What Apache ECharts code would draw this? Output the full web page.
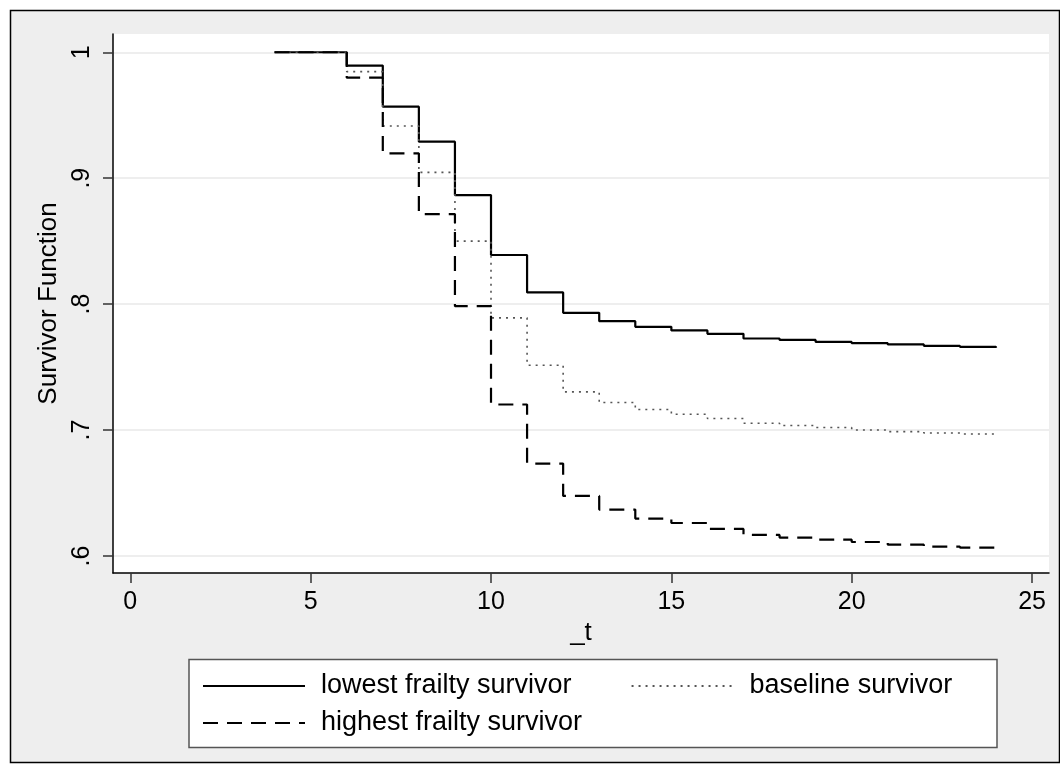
<!DOCTYPE html>
<html>
<head>
<meta charset="utf-8">
<script src="https://cdn.jsdelivr.net/npm/echarts@6/dist/echarts.min.js"></script>
<style>
html,body{margin:0;padding:0;background:#fff;}
#chart{width:1060px;height:774px;}
</style>
</head>
<body>
<div id="chart"></div>
<script>
// ---- data ----
const times = [4, 6, 7, 8, 9, 10, 11, 12, 13, 14, 15, 16, 17, 18, 19, 20, 21, 22, 23, 24];
const lowestFrailty = [1, 0.9894, 0.9568, 0.929, 0.8866, 0.839, 0.8093, 0.7931, 0.7865, 0.782, 0.7791, 0.7764, 0.7727, 0.7716, 0.770, 0.769, 0.768, 0.7669, 0.7661, 0.7653];
const baseline = [1, 0.9846, 0.9414, 0.9046, 0.850, 0.7891, 0.7515, 0.7303, 0.7219, 0.7163, 0.7126, 0.7092, 0.7054, 0.7036, 0.702, 0.7001, 0.6988, 0.6977, 0.6969, 0.6965];
const highestFrailty = [1, 0.9798, 0.9197, 0.8715, 0.7984, 0.7203, 0.6734, 0.6477, 0.6369, 0.6297, 0.6262, 0.6215, 0.6167, 0.6146, 0.613, 0.6111, 0.609, 0.6075, 0.6067, 0.6062];
const seriesNames = ['lowest frailty survivor', 'baseline survivor', 'highest frailty survivor'];
const xTickValues = [0, 5, 10, 15, 20, 25];
const xTickLabels = ['0', '5', '10', '15', '20', '25'];
const yTickValues = [0.6, 0.7, 0.8, 0.9, 1];
const yTickLabels = ['.6', '.7', '.8', '.9', '1'];
const xTitle = '_t';
const yTitle = 'Survivor Function';

function pairs(vals) { return times.map((t, i) => [t, vals[i]]); }
function labelFor(values, labels) {
  return function (v) {
    for (let i = 0; i < values.length; i++) if (Math.abs(values[i] - v) < 1e-6) return labels[i];
    return '';
  };
}

const FONT = 'Liberation Sans, Arial, Helvetica, sans-serif';
const chart = echarts.init(document.getElementById('chart'), null, { renderer: 'canvas' });

const legendCommon = {
  padding: 0, itemGap: 59, itemWidth: 102, itemHeight: 14,
  itemStyle: { opacity: 0, borderWidth: 0 },
  textStyle: { fontSize: 27, color: '#000', lineHeight: 30, padding: [0, 0, 0, 11], fontFamily: FONT },
  selectedMode: false
};

const option = {
  backgroundColor: '#ffffff',
  animation: false,
  textStyle: { fontFamily: FONT },
  graphic: [
    { type: 'rect', z: -10, silent: true, shape: { x: 10.5, y: 10.5, width: 1049, height: 752 },
      style: { fill: '#eeeeee', stroke: '#000000', lineWidth: 1.5 } },
    { type: 'rect', z: 1, silent: true, shape: { x: 189, y: 659.5, width: 808, height: 88 },
      style: { fill: '#ffffff', stroke: '#555555', lineWidth: 1.5 } }
  ],
  grid: { left: 113, top: 34, width: 936, height: 539, show: true, backgroundColor: '#ffffff', borderWidth: 0, containLabel: false },
  xAxis: {
    type: 'value', min: -0.48, max: 25.47,
    name: xTitle, nameLocation: 'middle', nameGap: 34,
    nameTextStyle: { fontSize: 26, color: '#000', fontFamily: FONT },
    axisLine: { show: true, onZero: false, lineStyle: { color: '#000', width: 1.5 } },
    axisTick: { show: true, length: 10, customValues: xTickValues, lineStyle: { color: '#333', width: 1.5 } },
    axisLabel: { customValues: xTickValues, formatter: labelFor(xTickValues, xTickLabels), fontSize: 25, color: '#000', margin: 17, fontFamily: FONT },
    splitLine: { show: false }
  },
  yAxis: {
    type: 'value', min: 0.5865, max: 1.0145,
    name: yTitle, nameLocation: 'middle', nameGap: 51, nameRotate: 90,
    nameTextStyle: { fontSize: 26, color: '#000', fontFamily: FONT },
    axisLine: { show: true, onZero: false, lineStyle: { color: '#000', width: 1.5 } },
    axisTick: { show: true, length: 10, customValues: yTickValues, lineStyle: { color: '#333', width: 1.5 } },
    axisLabel: { customValues: yTickValues, formatter: labelFor(yTickValues, yTickLabels), rotate: 90, fontSize: 25, color: '#000', margin: 18, fontFamily: FONT },
    splitLine: { show: true, customValues: yTickValues, lineStyle: { color: '#e8e8e8', width: 1.5 } }
  },
  legend: [
    Object.assign({ data: [seriesNames[0], seriesNames[1]], left: 202, top: 671 }, legendCommon),
    Object.assign({ data: [seriesNames[2]], left: 202, top: 708 }, legendCommon)
  ],
  series: [
    { name: seriesNames[0], type: 'line', step: 'end', symbol: 'none', data: pairs(lowestFrailty),
      lineStyle: { color: '#000', width: 2.2, type: 'solid' }, itemStyle: { color: '#000' } },
    { name: seriesNames[1], type: 'line', step: 'end', symbol: 'none', data: pairs(baseline),
      lineStyle: { color: '#555', width: 1.6, type: [2, 5] }, itemStyle: { color: '#555' } },
    { name: seriesNames[2], type: 'line', step: 'end', symbol: 'none', data: pairs(highestFrailty),
      lineStyle: { color: '#000', width: 2.2, type: [15, 9] }, itemStyle: { color: '#000' } }
  ]
};
chart.setOption(option);

// keep every small step visible (do not merge sub-pixel segments)
const zr = chart.getZr();
zr.storage.getDisplayList(true).forEach(function (el) {
  if (el.segmentIgnoreThreshold) {
    el.segmentIgnoreThreshold = 0.001;
    if (el.dirtyShape) el.dirtyShape();
    if (el.path && el.path.setScale) el.path.setScale(1, 1, 0.001);
  }
});
zr.refreshImmediately();
</script>
</body>
</html>
